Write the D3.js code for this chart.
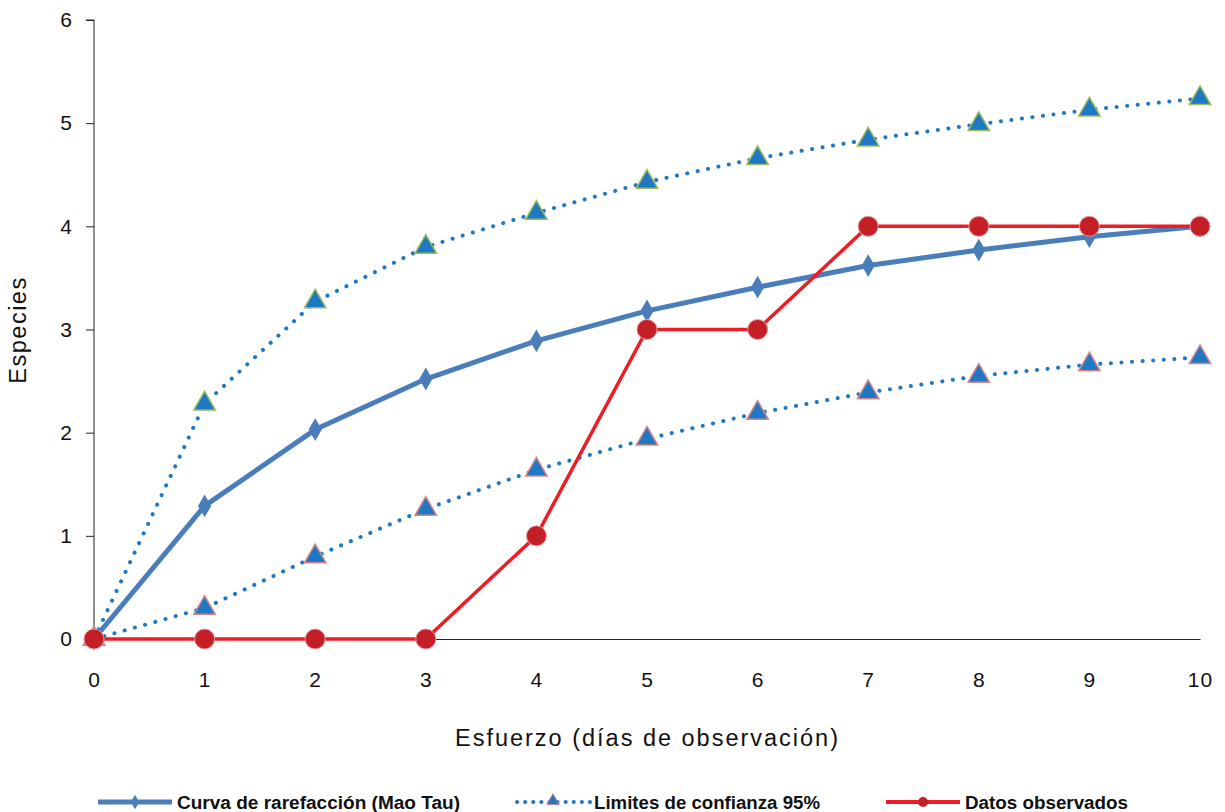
<!DOCTYPE html>
<html>
<head>
<meta charset="utf-8">
<script src="https://cdn.jsdelivr.net/npm/d3@7"></script>
<style>
  body { margin: 0; background: #fff; }
  svg { display: block; }
</style>
</head>
<body>
<svg id="chart"></svg>
<script>
// datos
const dias = [0, 1, 2, 3, 4, 5, 6, 7, 8, 9, 10];
const maoTau = [0, 1.29, 2.03, 2.52, 2.89, 3.18, 3.41, 3.62, 3.77, 3.90, 4.0];
const limiteSup = [0, 2.28, 3.27, 3.80, 4.13, 4.43, 4.66, 4.84, 4.99, 5.13, 5.24];
const limiteInf = [0, 0.30, 0.80, 1.26, 1.64, 1.94, 2.19, 2.39, 2.55, 2.66, 2.73];
const observados = [0, 0, 0, 0, 1, 3, 3, 4, 4, 4, 4];
const yTicks = [0, 1, 2, 3, 4, 5, 6];
const leyenda = ["Curva de rarefacción (Mao Tau)", "Limites de confianza 95%", "Datos observados"];

const width = 1225, height = 812;
const svg = d3.select("#chart").attr("width", width).attr("height", height);

const x = d3.scaleLinear().domain([0, 10]).range([94, 1200]);
const y = d3.scaleLinear().domain([0, 6]).range([639, 20]);

const font = "'Liberation Sans', Arial, sans-serif";

// eje Y
const yAxis = svg.append("g")
    .attr("transform", `translate(${x(0)},0)`)
    .call(d3.axisLeft(y).tickValues(yTicks).tickSize(8).tickPadding(14).tickFormat(d3.format("d")));
yAxis.select(".domain").attr("stroke", "#222").attr("d", `M-8,${y(6)}H0V${y(0)}`);
yAxis.selectAll(".tick line").attr("stroke", "#222");
yAxis.selectAll("text").attr("font-family", font).attr("font-size", 21).attr("fill", "#111");

// eje X
const xAxis = svg.append("g")
    .attr("transform", `translate(0,${y(0)})`)
    .call(d3.axisBottom(x).tickValues(dias).tickSize(0).tickPadding(33).tickFormat(d3.format("d")));
xAxis.select(".domain").attr("stroke", "#222");
xAxis.selectAll("text").attr("font-family", font).attr("font-size", 21).attr("fill", "#111")
    .attr("letter-spacing", 1);

// titulos de ejes
svg.append("text")
    .attr("x", 455).attr("y", 746)
    .attr("font-family", font).attr("font-size", 23.5).attr("fill", "#111")
    .attr("textLength", 383).attr("lengthAdjust", "spacing")
    .text("Esfuerzo (días de observación)");
svg.append("text")
    .attr("transform", `translate(26,${330}) rotate(-90)`)
    .attr("text-anchor", "middle")
    .attr("font-family", font).attr("font-size", 23.5).attr("fill", "#111")
    .attr("letter-spacing", 1.5)
    .text("Especies");

const line = d3.line().x((d, i) => x(dias[i])).y(d => y(d));
const tri = d3.symbol().type(d3.symbolTriangle).size(200);
const diamond = d3.symbol().type(d3.symbolDiamond).size(150);

// limites de confianza (punteado)
[limiteSup, limiteInf].forEach(serie => {
    svg.append("path")
        .datum(serie)
        .attr("d", line)
        .attr("fill", "none")
        .attr("stroke", "#1f78c4")
        .attr("stroke-width", 4)
        .attr("stroke-linecap", "round")
        .attr("stroke-dasharray", "0.1 10.5");
});

// curva Mao Tau
svg.append("path")
    .datum(maoTau)
    .attr("d", line)
    .attr("fill", "none")
    .attr("stroke", "#4a7ebb")
    .attr("stroke-width", 5)
    .attr("stroke-linejoin", "round");
svg.selectAll(".diam")
    .data(maoTau)
    .enter().append("path")
    .attr("transform", (d, i) => `translate(${x(dias[i])},${y(d)})`)
    .attr("d", diamond)
    .attr("fill", "#4a7ebb");

// triangulos
svg.selectAll(".triSup")
    .data(limiteSup)
    .enter().append("path")
    .attr("transform", (d, i) => `translate(${x(dias[i])},${y(d)})`)
    .attr("d", tri)
    .attr("fill", "#1f78c4")
    .attr("stroke", "#9bbb59")
    .attr("stroke-width", 1.5);
svg.selectAll(".triInf")
    .data(limiteInf)
    .enter().append("path")
    .attr("transform", (d, i) => `translate(${x(dias[i])},${y(d)})`)
    .attr("d", tri)
    .attr("fill", "#1f78c4")
    .attr("stroke", "#d8868a")
    .attr("stroke-width", 1.5);

// datos observados
svg.append("path")
    .datum(observados)
    .attr("d", line)
    .attr("fill", "none")
    .attr("stroke", "#ee1c25")
    .attr("stroke-width", 3.5);
svg.selectAll(".obs")
    .data(observados)
    .enter().append("circle")
    .attr("cx", (d, i) => x(dias[i]))
    .attr("cy", d => y(d))
    .attr("r", 10)
    .attr("fill", "#c41e26")
    .attr("stroke", "#e79a9d")
    .attr("stroke-width", 1);

// leyenda
const legFont = "'Liberation Sans Narrow', 'Arial Narrow', 'Liberation Sans', sans-serif";
const ly = 802;
const leg = svg.append("g");
// Mao Tau
leg.append("line").attr("x1", 98).attr("x2", 172).attr("y1", ly).attr("y2", ly)
    .attr("stroke", "#4a7ebb").attr("stroke-width", 5);
leg.append("path").attr("transform", `translate(135,${ly})`).attr("d", d3.symbol().type(d3.symbolDiamond).size(60)).attr("fill", "#4a7ebb");
leg.append("text").attr("x", 177).attr("y", ly + 7)
    .attr("font-family", legFont).attr("font-weight", "bold").attr("font-size", 18).attr("fill", "#111")
    .attr("textLength", 283).attr("lengthAdjust", "spacingAndGlyphs")
    .text(leyenda[0]);
// limites
leg.append("line").attr("x1", 517).attr("x2", 590).attr("y1", ly).attr("y2", ly)
    .attr("stroke", "#1f78c4").attr("stroke-width", 4).attr("stroke-linecap", "round")
    .attr("stroke-dasharray", "0.1 8");
leg.append("path").attr("transform", `translate(553,${ly - 1})`).attr("d", d3.symbol().type(d3.symbolTriangle).size(70))
    .attr("fill", "#1f78c4").attr("stroke", "#d8868a");
leg.append("text").attr("x", 594).attr("y", ly + 7)
    .attr("font-family", legFont).attr("font-weight", "bold").attr("font-size", 18).attr("fill", "#111")
    .attr("textLength", 226).attr("lengthAdjust", "spacingAndGlyphs")
    .text(leyenda[1]);
// observados
leg.append("line").attr("x1", 886).attr("x2", 960).attr("y1", ly).attr("y2", ly)
    .attr("stroke", "#ee1c25").attr("stroke-width", 4);
leg.append("circle").attr("cx", 923).attr("cy", ly).attr("r", 5).attr("fill", "#c41e26");
leg.append("text").attr("x", 965).attr("y", ly + 7)
    .attr("font-family", legFont).attr("font-weight", "bold").attr("font-size", 18).attr("fill", "#111")
    .attr("textLength", 163).attr("lengthAdjust", "spacingAndGlyphs")
    .text(leyenda[2]);
</script>
</body>
</html>
